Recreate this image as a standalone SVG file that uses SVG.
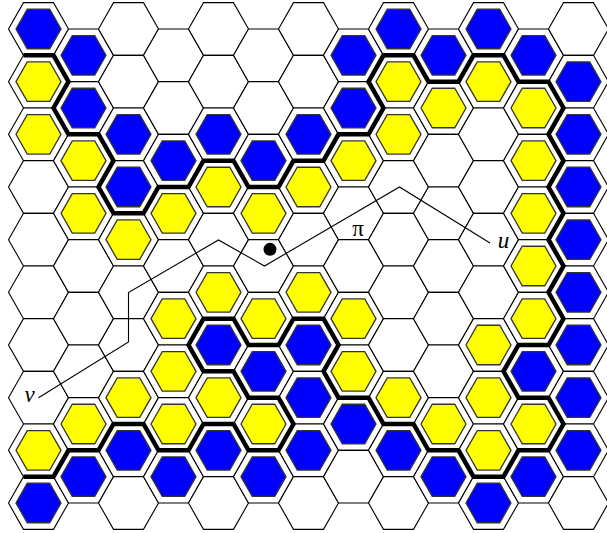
<svg xmlns="http://www.w3.org/2000/svg" xmlns:xlink="http://www.w3.org/1999/xlink" width="607" height="533" viewBox="0 0 607 533">
<style>
.cell{fill:#fff;stroke:#000;stroke-width:1.1}
.b{fill:#0000ff;stroke:#333;stroke-width:1.3}
.y{fill:#ffff00;stroke:#333;stroke-width:1.3}
.iface{fill:none;stroke:#000;stroke-width:4.5;stroke-linejoin:miter}
.trail{fill:none;stroke:#000;stroke-width:1.1}
.lbl{font-family:"Liberation Serif","Times New Roman",serif;font-size:23px;fill:#000;text-anchor:middle}
.it{font-style:italic}
</style>
<defs>
<path id="h" d="M-30,0 L-15,-26.33 L15,-26.33 L30,0 L15,26.33 L-15,26.33 Z"/>
<path id="hi" d="M-22.5,0 L-11.25,-19.75 L11.25,-19.75 L22.5,0 L11.25,19.75 L-11.25,19.75 Z"/>
</defs>
<rect width="607" height="533" fill="#fff"/>
<g id="board" class="cell">
<use href="#h" x="38.5" y="29"/><use href="#h" x="38.5" y="81.67"/><use href="#h" x="38.5" y="134.33"/><use href="#h" x="38.5" y="187"/><use href="#h" x="38.5" y="239.67"/><use href="#h" x="38.5" y="292.33"/><use href="#h" x="38.5" y="345"/><use href="#h" x="38.5" y="397.67"/><use href="#h" x="38.5" y="450.33"/><use href="#h" x="38.5" y="503"/>
<use href="#h" x="83.5" y="55.33"/><use href="#h" x="83.5" y="108"/><use href="#h" x="83.5" y="160.67"/><use href="#h" x="83.5" y="213.33"/><use href="#h" x="83.5" y="266"/><use href="#h" x="83.5" y="318.67"/><use href="#h" x="83.5" y="371.33"/><use href="#h" x="83.5" y="424"/><use href="#h" x="83.5" y="476.67"/>
<use href="#h" x="128.5" y="29"/><use href="#h" x="128.5" y="81.67"/><use href="#h" x="128.5" y="134.33"/><use href="#h" x="128.5" y="187"/><use href="#h" x="128.5" y="239.67"/><use href="#h" x="128.5" y="292.33"/><use href="#h" x="128.5" y="345"/><use href="#h" x="128.5" y="397.67"/><use href="#h" x="128.5" y="450.33"/><use href="#h" x="128.5" y="503"/>
<use href="#h" x="173.5" y="55.33"/><use href="#h" x="173.5" y="108"/><use href="#h" x="173.5" y="160.67"/><use href="#h" x="173.5" y="213.33"/><use href="#h" x="173.5" y="266"/><use href="#h" x="173.5" y="318.67"/><use href="#h" x="173.5" y="371.33"/><use href="#h" x="173.5" y="424"/><use href="#h" x="173.5" y="476.67"/>
<use href="#h" x="218.5" y="29"/><use href="#h" x="218.5" y="81.67"/><use href="#h" x="218.5" y="134.33"/><use href="#h" x="218.5" y="187"/><use href="#h" x="218.5" y="239.67"/><use href="#h" x="218.5" y="292.33"/><use href="#h" x="218.5" y="345"/><use href="#h" x="218.5" y="397.67"/><use href="#h" x="218.5" y="450.33"/><use href="#h" x="218.5" y="503"/>
<use href="#h" x="263.5" y="55.33"/><use href="#h" x="263.5" y="108"/><use href="#h" x="263.5" y="160.67"/><use href="#h" x="263.5" y="213.33"/><use href="#h" x="263.5" y="266"/><use href="#h" x="263.5" y="318.67"/><use href="#h" x="263.5" y="371.33"/><use href="#h" x="263.5" y="424"/><use href="#h" x="263.5" y="476.67"/>
<use href="#h" x="308.5" y="29"/><use href="#h" x="308.5" y="81.67"/><use href="#h" x="308.5" y="134.33"/><use href="#h" x="308.5" y="187"/><use href="#h" x="308.5" y="239.67"/><use href="#h" x="308.5" y="292.33"/><use href="#h" x="308.5" y="345"/><use href="#h" x="308.5" y="397.67"/><use href="#h" x="308.5" y="450.33"/><use href="#h" x="308.5" y="503"/>
<use href="#h" x="353.5" y="55.33"/><use href="#h" x="353.5" y="108"/><use href="#h" x="353.5" y="160.67"/><use href="#h" x="353.5" y="213.33"/><use href="#h" x="353.5" y="266"/><use href="#h" x="353.5" y="318.67"/><use href="#h" x="353.5" y="371.33"/><use href="#h" x="353.5" y="424"/><use href="#h" x="353.5" y="476.67"/>
<use href="#h" x="398.5" y="29"/><use href="#h" x="398.5" y="81.67"/><use href="#h" x="398.5" y="134.33"/><use href="#h" x="398.5" y="187"/><use href="#h" x="398.5" y="239.67"/><use href="#h" x="398.5" y="292.33"/><use href="#h" x="398.5" y="345"/><use href="#h" x="398.5" y="397.67"/><use href="#h" x="398.5" y="450.33"/><use href="#h" x="398.5" y="503"/>
<use href="#h" x="443.5" y="55.33"/><use href="#h" x="443.5" y="108"/><use href="#h" x="443.5" y="160.67"/><use href="#h" x="443.5" y="213.33"/><use href="#h" x="443.5" y="266"/><use href="#h" x="443.5" y="318.67"/><use href="#h" x="443.5" y="371.33"/><use href="#h" x="443.5" y="424"/><use href="#h" x="443.5" y="476.67"/>
<use href="#h" x="488.5" y="29"/><use href="#h" x="488.5" y="81.67"/><use href="#h" x="488.5" y="134.33"/><use href="#h" x="488.5" y="187"/><use href="#h" x="488.5" y="239.67"/><use href="#h" x="488.5" y="292.33"/><use href="#h" x="488.5" y="345"/><use href="#h" x="488.5" y="397.67"/><use href="#h" x="488.5" y="450.33"/><use href="#h" x="488.5" y="503"/>
<use href="#h" x="533.5" y="55.33"/><use href="#h" x="533.5" y="108"/><use href="#h" x="533.5" y="160.67"/><use href="#h" x="533.5" y="213.33"/><use href="#h" x="533.5" y="266"/><use href="#h" x="533.5" y="318.67"/><use href="#h" x="533.5" y="371.33"/><use href="#h" x="533.5" y="424"/><use href="#h" x="533.5" y="476.67"/>
<use href="#h" x="578.5" y="29"/><use href="#h" x="578.5" y="81.67"/><use href="#h" x="578.5" y="134.33"/><use href="#h" x="578.5" y="187"/><use href="#h" x="578.5" y="239.67"/><use href="#h" x="578.5" y="292.33"/><use href="#h" x="578.5" y="345"/><use href="#h" x="578.5" y="397.67"/><use href="#h" x="578.5" y="450.33"/><use href="#h" x="578.5" y="503"/>
</g>
<g id="blue-cells" class="b">
<use href="#hi" x="38.5" y="29"/><use href="#hi" x="38.5" y="503"/>
<use href="#hi" x="83.5" y="55.33"/><use href="#hi" x="83.5" y="108"/><use href="#hi" x="83.5" y="476.67"/>
<use href="#hi" x="128.5" y="134.33"/><use href="#hi" x="128.5" y="187"/><use href="#hi" x="128.5" y="450.33"/>
<use href="#hi" x="173.5" y="160.67"/><use href="#hi" x="173.5" y="476.67"/>
<use href="#hi" x="218.5" y="134.33"/><use href="#hi" x="218.5" y="345"/><use href="#hi" x="218.5" y="450.33"/>
<use href="#hi" x="263.5" y="160.67"/><use href="#hi" x="263.5" y="371.33"/><use href="#hi" x="263.5" y="476.67"/>
<use href="#hi" x="308.5" y="134.33"/><use href="#hi" x="308.5" y="345"/><use href="#hi" x="308.5" y="397.67"/><use href="#hi" x="308.5" y="450.33"/>
<use href="#hi" x="353.5" y="55.33"/><use href="#hi" x="353.5" y="108"/><use href="#hi" x="353.5" y="424"/>
<use href="#hi" x="398.5" y="29"/><use href="#hi" x="398.5" y="450.33"/>
<use href="#hi" x="443.5" y="55.33"/><use href="#hi" x="443.5" y="476.67"/>
<use href="#hi" x="488.5" y="29"/><use href="#hi" x="488.5" y="503"/>
<use href="#hi" x="533.5" y="55.33"/><use href="#hi" x="533.5" y="371.33"/><use href="#hi" x="533.5" y="476.67"/>
<use href="#hi" x="578.5" y="81.67"/><use href="#hi" x="578.5" y="134.33"/><use href="#hi" x="578.5" y="187"/><use href="#hi" x="578.5" y="239.67"/><use href="#hi" x="578.5" y="292.33"/><use href="#hi" x="578.5" y="345"/><use href="#hi" x="578.5" y="397.67"/><use href="#hi" x="578.5" y="450.33"/>
</g>
<g id="yellow-cells" class="y">
<use href="#hi" x="38.5" y="81.67"/><use href="#hi" x="38.5" y="134.33"/><use href="#hi" x="38.5" y="450.33"/>
<use href="#hi" x="83.5" y="160.67"/><use href="#hi" x="83.5" y="213.33"/><use href="#hi" x="83.5" y="424"/>
<use href="#hi" x="128.5" y="239.67"/><use href="#hi" x="128.5" y="397.67"/>
<use href="#hi" x="173.5" y="213.33"/><use href="#hi" x="173.5" y="318.67"/><use href="#hi" x="173.5" y="371.33"/><use href="#hi" x="173.5" y="424"/>
<use href="#hi" x="218.5" y="187"/><use href="#hi" x="218.5" y="292.33"/><use href="#hi" x="218.5" y="397.67"/>
<use href="#hi" x="263.5" y="213.33"/><use href="#hi" x="263.5" y="318.67"/><use href="#hi" x="263.5" y="424"/>
<use href="#hi" x="308.5" y="187"/><use href="#hi" x="308.5" y="292.33"/>
<use href="#hi" x="353.5" y="160.67"/><use href="#hi" x="353.5" y="318.67"/><use href="#hi" x="353.5" y="371.33"/>
<use href="#hi" x="398.5" y="81.67"/><use href="#hi" x="398.5" y="134.33"/><use href="#hi" x="398.5" y="397.67"/>
<use href="#hi" x="443.5" y="108"/><use href="#hi" x="443.5" y="424"/>
<use href="#hi" x="488.5" y="81.67"/><use href="#hi" x="488.5" y="345"/><use href="#hi" x="488.5" y="397.67"/><use href="#hi" x="488.5" y="450.33"/>
<use href="#hi" x="533.5" y="108"/><use href="#hi" x="533.5" y="160.67"/><use href="#hi" x="533.5" y="213.33"/><use href="#hi" x="533.5" y="266"/><use href="#hi" x="533.5" y="318.67"/><use href="#hi" x="533.5" y="424"/>
</g>
<g id="interface">
<path class="iface" d="M23.5,55.33 L53.5,55.33 L68.5,81.67 L53.5,108 L68.5,134.33 L98.5,134.33 L113.5,160.67 L98.5,187 L113.5,213.33 L143.5,213.33 L158.5,187 L188.5,187 L203.5,160.67 L233.5,160.67 L248.5,187 L278.5,187 L293.5,160.67 L323.5,160.67 L338.5,134.33 L368.5,134.33 L383.5,108 L368.5,81.67 L383.5,55.33 L413.5,55.33 L428.5,81.67 L458.5,81.67 L473.5,55.33 L503.5,55.33 L518.5,81.67 L548.5,81.67 L563.5,108 L548.5,134.33 L563.5,160.67 L548.5,187 L563.5,213.33 L548.5,239.67 L563.5,266 L548.5,292.33 L563.5,318.67 L548.5,345 L518.5,345 L503.5,371.33 L518.5,397.67 L548.5,397.67 L563.5,424 L548.5,450.33 L518.5,450.33 L503.5,476.67 L473.5,476.67 L458.5,450.33 L428.5,450.33 L413.5,424 L383.5,424 L368.5,397.67 L338.5,397.67 L323.5,371.33 L338.5,345 L323.5,318.67 L293.5,318.67 L278.5,345 L248.5,345 L233.5,318.67 L203.5,318.67 L188.5,345 L203.5,371.33 L233.5,371.33 L248.5,397.67 L278.5,397.67 L293.5,424 L278.5,450.33 L248.5,450.33 L233.5,424 L203.5,424 L188.5,450.33 L158.5,450.33 L143.5,424 L113.5,424 L98.5,450.33 L68.5,450.33 L53.5,476.67 L23.5,476.67"/>
</g>
<g id="connectors">
<path class="trail" d="M38.5,397.7 L128.5,342 L128.5,292.5 L218.5,240 L264.5,266 L399.5,187 L490,243"/>
</g>
<g id="dot"><circle cx="270" cy="249.3" r="6.5" fill="#000"/></g>
<g id="label-v"><text class="lbl it" x="29.5" y="401.5">v</text></g>
<g id="label-u"><text class="lbl it" x="503.5" y="248.3">u</text></g>
<g id="label-pi"><text class="lbl" x="358" y="236">π</text></g>
</svg>
